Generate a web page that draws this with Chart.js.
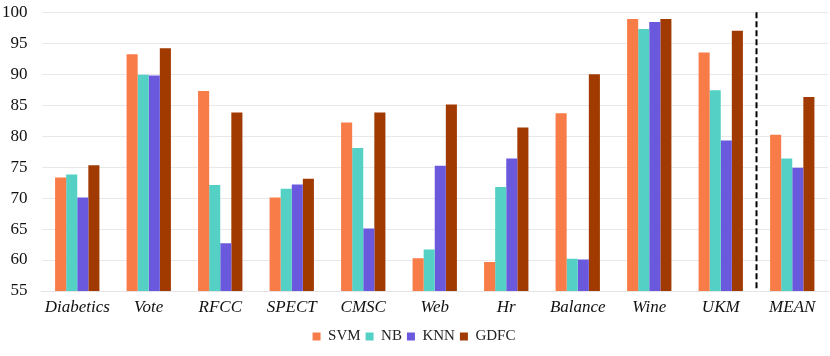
<!DOCTYPE html>
<html lang="en">
<head>
  <meta charset="UTF-8" />
  <title>Accuracy by dataset</title>
  <script src="https://cdn.jsdelivr.net/npm/chart.js"></script>
  <style>
    body { margin: 0; background: #fff; }
    .wrap { width: 830px; height: 356px; }
  </style>
</head>
<body>
  <div class="wrap"><canvas id="chart"></canvas></div>

  <script>
    const datasetsNames = ['Diabetics', 'Vote', 'RFCC', 'SPECT', 'CMSC', 'Web', 'Hr', 'Balance', 'Wine', 'UKM', 'MEAN'];
    const svm  = [73.3, 93.2, 87.3, 70.1, 82.2, 60.3, 59.7, 83.7, 98.9, 93.5, 80.2];
    const nb   = [73.8, 89.9, 72.1, 71.5, 78.1, 61.7, 71.8, 60.2, 97.3, 87.4, 76.4];
    const knn  = [70.1, 89.8, 62.7, 72.2, 65.1, 75.2, 76.4, 60.1, 98.4, 79.3, 74.9];
    const gdfc = [75.3, 94.2, 83.8, 73.1, 83.8, 85.1, 81.4, 90.0, 98.9, 97.0, 86.3];
    const yTicks = [55, 60, 65, 70, 75, 80, 85, 90, 95, 100];

    // dashed separator before the MEAN group
    const separator = {
      id: 'separator',
      afterDatasetsDraw(chart) {
        const x = chart.scales.x;
        const y = chart.scales.y;
        const pos = (x.getPixelForValue(9) + x.getPixelForValue(10)) / 2;
        const ctx = chart.ctx;
        ctx.save();
        ctx.strokeStyle = '#000';
        ctx.lineWidth = 2;
        ctx.setLineDash([6, 3]);
        ctx.beginPath();
        ctx.moveTo(pos, y.top);
        ctx.lineTo(pos, y.bottom);
        ctx.stroke();
        ctx.restore();
      }
    };

    // keep the legend strip compact
    const legendHeight = {
      id: 'legendHeight',
      beforeInit(chart) {
        if (!chart.legend) return;
        const fit = chart.legend.fit;
        chart.legend.fit = function () {
          fit.call(this);
          this.height = 32;
        };
      }
    };

    new Chart(document.getElementById('chart'), {
      type: 'bar',
      data: {
        labels: datasetsNames,
        datasets: [
          { label: 'SVM', data: svm, backgroundColor: '#F87C48' },
          { label: 'NB', data: nb, backgroundColor: '#55D0C5' },
          { label: 'KNN', data: knn, backgroundColor: '#6A58DD' },
          { label: 'GDFC', data: gdfc, backgroundColor: '#A03A00' }
        ]
      },
      options: {
        responsive: true,
        maintainAspectRatio: false,
        animation: false,
        layout: { padding: { top: 2, right: 2, left: 0, bottom: 0 } },
        datasets: { bar: { categoryPercentage: 0.62, barPercentage: 1.0 } },
        plugins: {
          legend: {
            position: 'bottom',
            labels: {
              boxWidth: 8,
              boxHeight: 8,
              padding: 5,
              color: '#222',
              font: { family: 'Liberation Serif', size: 15, lineHeight: 1 }
            }
          },
          tooltip: { enabled: false }
        },
        scales: {
          x: {
            grid: { display: false, drawTicks: false },
            border: { color: '#e4e4e4' },
            ticks: {
              color: '#111',
              padding: 8,
              maxRotation: 0,
              minRotation: 0,
              autoSkip: false,
              font: { family: 'Liberation Serif', size: 17, style: 'italic', lineHeight: 1 }
            }
          },
          y: {
            min: 55,
            max: 100,
            afterBuildTicks(axis) { axis.ticks = yTicks.map(v => ({ value: v })); },
            grid: { color: '#e8e8e8', lineWidth: 1, tickLength: 12, tickColor: 'rgba(0,0,0,0)' },
            border: { display: false },
            ticks: {
              color: '#111',
              padding: 2,
              font: { family: 'Liberation Serif', size: 17 }
            }
          }
        }
      },
      plugins: [separator, legendHeight]
    });
  </script>
</body>
</html>
